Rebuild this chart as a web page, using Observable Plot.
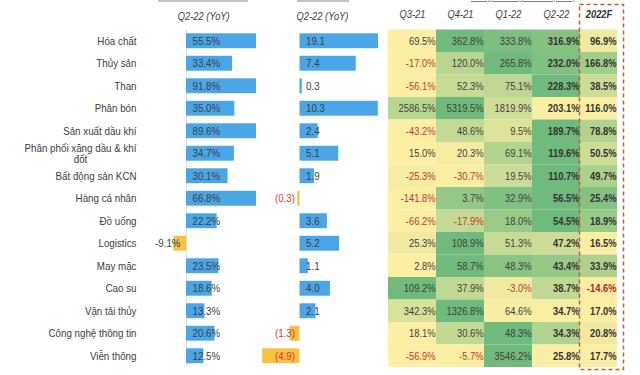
<!DOCTYPE html>
<html><head><meta charset="utf-8">
<script src="https://cdn.jsdelivr.net/npm/d3@7"></script>
<script src="https://cdn.jsdelivr.net/npm/@observablehq/plot@0.6"></script>
<style>
body{margin:0;background:#fff;}
#wrap{position:relative;width:640px;height:375px;overflow:hidden;font-family:Arial,'Liberation Sans',sans-serif;}
#wrap svg{position:absolute;left:0;top:0;}
.cut{position:absolute;background:#c4c4c4;height:2px;top:0;}
.ttl{position:absolute;top:-10px;left:462px;width:120px;text-align:center;font-size:11px;line-height:12px;color:#7f7f7f;text-decoration:underline;white-space:nowrap;transform:scaleX(0.85);}
</style></head>
<body>
<div id="wrap">
  <div class="cut" style="left:158px;width:90px"></div>
  <div class="cut" style="left:297px;width:52px"></div>
  <div class="ttl">Tăng trưởng LNST (YoY)</div>
</div>
<script>
const sectors = ["Hóa chất","Thủy sản","Than","Phân bón","Sản xuất dầu khí","Phân phối xăng dầu & khí đốt","Bất động sản KCN","Hàng cá nhân","Đồ uống","Logistics","May mặc","Cao su","Vận tải thủy","Công nghệ thông tin","Viễn thông"];
const col1 = [55.5, 33.4, 91.8, 35.0, 89.6, 34.7, 30.1, 66.8, 22.2, -9.1, 23.5, 18.6, 13.3, 20.6, 12.5];
const col2 = [19.1, 7.4, 0.3, 10.3, 2.4, 5.1, 1.9, -0.3, 3.6, 5.2, 1.1, 4.0, 2.1, -1.3, -4.9];
const periods = ["Q3-21","Q4-21","Q1-22","Q2-22","2022F"];
const q321 = [69.5, -17.0, -56.1, 2586.5, -43.2, 15.0, -25.3, -141.8, -66.2, 25.3, 2.8, 109.2, 342.3, 18.1, -56.9];
const q421 = [362.8, 120.0, 52.3, 5319.5, 48.6, 20.3, -30.7, 3.7, -17.9, 108.9, 58.7, 37.9, 1326.8, 30.6, -5.7];
const q122 = [333.8, 265.8, 75.1, 1819.9, 9.5, 69.1, 19.5, 32.9, 18.0, 51.3, 48.3, -3.0, 64.6, 48.3, 3546.2];
const q222 = [316.9, 232.0, 228.3, 203.1, 189.7, 119.6, 110.7, 56.5, 54.5, 47.2, 43.4, 38.7, 34.7, 34.3, 25.8];
const f2022 = [96.9, 166.8, 38.5, 116.0, 78.8, 50.5, 49.7, 25.4, 18.9, 16.5, 33.9, -14.6, 17.0, 20.8, 17.7];
const colHeader1 = "Q2-22 (YoY)";
const colHeader2 = "Q2-22 (YoY)";

const FONT = "Arial,'Liberation Sans',sans-serif";
const SQUEEZE = 0.85;
const BLUE = "#4aa6e6", GOLD = "#f6c244", TXT = "#404040", RED = "#c0392b", RED2 = "#e2372d";
const LOW = "#fcefa4", HIGH = "#6fba7c";
const W = 640, H = 375, MT = 29.5, MB = 8;
const wrap = document.getElementById("wrap");
const style = {background: "none", fontFamily: FONT, fontSize: "11.5px", color: TXT, overflow: "visible"};

const rows = sectors.map((s, i) => ({s, c1: col1[i], c2: col2[i]}));
const series = [q321, q421, q122, q222, f2022];
const cells = [];
sectors.forEach((s, i) => {
  const vals = series.map(a => a[i]);
  const lo = d3.min(vals), hi = d3.max(vals);
  periods.forEach((p, j) => cells.push({s, p, v: vals[j], t: (vals[j] - lo) / (hi - lo)}));
});
const fmtPct = d => d.v.toFixed(1) + "%";
const wrapLabel = s => s.length > 24 ? s.slice(0, s.lastIndexOf(" ", 24)) + "\n" + s.slice(s.lastIndexOf(" ", 24) + 1) : s;
const single = rows.filter(d => !wrapLabel(d.s).includes("\n"));
const multi = rows.filter(d => wrapLabel(d.s).includes("\n"));
const ctx = document.createElement("canvas").getContext("2d");
ctx.font = "11.5px " + FONT;
const firstW = multi.length ? ctx.measureText(wrapLabel(multi[0].s).split("\n")[0]).width * SQUEEZE : 0;
const yOpt = {domain: sectors, axis: null, padding: 0, round: false};

// Labels + column 1
wrap.appendChild(Plot.plot({
  width: W, height: H, marginTop: MT, marginBottom: MB, marginLeft: 158.4, marginRight: 384,
  x: {domain: [-20, 50.7], clamp: true, axis: null},
  y: yOpt, style,
  marks: [
    Plot.ruleX([0], {stroke: "#dedede"}),
    Plot.barX(rows.filter(d => d.c1 >= 0), {y: "s", x1: () => 0, x2: "c1", fill: BLUE, insetTop: 3.8, insetBottom: 3.8}),
    Plot.barX(rows.filter(d => d.c1 < 0), {y: "s", x1: () => 0, x2: "c1", fill: GOLD, insetTop: 3.8, insetBottom: 3.8}),
    Plot.text(rows.filter(d => d.c1 >= 0), {y: "s", x: () => 0, text: d => d.c1.toFixed(1) + "%", textAnchor: "start", dx: 6, fill: TXT}),
    Plot.text(rows.filter(d => d.c1 < 0), {y: "s", x: () => 0, text: d => d.c1.toFixed(1) + "%", textAnchor: "end", dx: -6, fill: TXT}),
    Plot.text(single, {y: "s", text: "s", frameAnchor: "left", textAnchor: "end", dx: -22.4, fill: TXT}),
    Plot.text(multi, {y: "s", text: d => wrapLabel(d.s), frameAnchor: "left", textAnchor: "middle", dx: -(22.4 + firstW / 2), lineHeight: 0.95, fill: TXT}),
    Plot.text([colHeader1], {frameAnchor: "top", lineAnchor: "middle", dy: -13.8, dx: -4, fontStyle: "italic", fontSize: 11, fill: TXT})
  ]
}));

// Column 2
wrap.appendChild(Plot.plot({
  width: W, height: H, marginTop: MT, marginBottom: MB, marginLeft: 253.9, marginRight: 262,
  x: {domain: [-6, 10.33], clamp: true, axis: null},
  y: yOpt, style,
  marks: [
    Plot.barX(rows.filter(d => d.c2 >= 0), {y: "s", x1: () => 0, x2: "c2", fill: BLUE, insetTop: 3.8, insetBottom: 3.8}),
    Plot.barX(rows.filter(d => d.c2 < 0), {y: "s", x1: () => 0, x2: "c2", fill: GOLD, insetTop: 3.8, insetBottom: 3.8}),
    Plot.text(rows.filter(d => d.c2 >= 0), {y: "s", x: () => 0, text: d => d.c2.toFixed(1), textAnchor: "start", dx: 6, fill: TXT}),
    Plot.text(rows.filter(d => d.c2 < 0), {y: "s", x: () => 0, text: d => "(" + Math.abs(d.c2).toFixed(1) + ")", textAnchor: "end", dx: -5, fill: RED2}),
    Plot.text([colHeader2], {frameAnchor: "top", lineAnchor: "middle", dy: -13.8, dx: 6, fontStyle: "italic", fontSize: 11, fill: TXT})
  ]
}));

// Heatmap Q3-21 .. Q2-22
const hist = periods.slice(0, 4);
const c4 = cells.filter(d => hist.includes(d.p));
const isBold = d => d.p === "Q2-22";
wrap.appendChild(Plot.plot({
  width: W, height: H, marginTop: MT, marginBottom: MB, marginLeft: 388, marginRight: 60,
  x: {domain: hist, axis: null, padding: 0, round: false},
  y: yOpt, style,
  color: {type: "linear", domain: [0, 1], range: [LOW, HIGH], interpolate: "rgb"},
  marks: [
    Plot.cell(c4, {x: "p", y: "s", fill: "t"}),
    Plot.text(c4.filter(d => !isBold(d) && d.v >= 0), {x: "p", y: "s", text: fmtPct, textAnchor: "end", dx: 23, fontSize: 11, fill: TXT}),
    Plot.text(c4.filter(d => !isBold(d) && d.v < 0), {x: "p", y: "s", text: fmtPct, textAnchor: "end", dx: 23, fontSize: 11, fill: RED}),
    Plot.text(c4.filter(d => isBold(d) && d.v >= 0), {x: "p", y: "s", text: fmtPct, textAnchor: "end", dx: 23, fontSize: 11, fontWeight: "bold", fill: "#333"}),
    Plot.text(c4.filter(d => isBold(d) && d.v < 0), {x: "p", y: "s", text: fmtPct, textAnchor: "end", dx: 23, fontSize: 11, fontWeight: "bold", fill: RED}),
    Plot.text(hist, {x: d => d, frameAnchor: "top", lineAnchor: "middle", dy: -15.5, fontStyle: "italic", fontSize: 11, fill: TXT})
  ]
}));

// 2022F column with dashed box
const fc = cells.filter(d => d.p === "2022F");
wrap.appendChild(Plot.plot({
  width: W, height: H, marginTop: MT, marginBottom: MB, marginLeft: 580, marginRight: 23,
  x: {domain: ["2022F"], axis: null, padding: 0, round: false},
  y: yOpt, style,
  color: {type: "linear", domain: [0, 1], range: [LOW, HIGH], interpolate: "rgb"},
  marks: [
    Plot.cell(fc, {x: "p", y: "s", fill: "t"}),
    Plot.text(fc.filter(d => d.v >= 0), {x: "p", y: "s", text: fmtPct, textAnchor: "end", dx: 17.5, fontSize: 11, fontWeight: "bold", fill: "#333"}),
    Plot.text(fc.filter(d => d.v < 0), {x: "p", y: "s", text: fmtPct, textAnchor: "end", dx: 17.5, fontSize: 11, fontWeight: "bold", fill: "#a8281c"}),
    Plot.text(["2022F"], {x: d => d, frameAnchor: "top", lineAnchor: "middle", dy: -15.5, fontStyle: "italic", fontWeight: "bold", fontSize: 11, fill: "#333"}),
    Plot.frame({stroke: "#c0612b", strokeWidth: 1.5, strokeDasharray: "4,3", insetLeft: -1, insetRight: -6, insetTop: -25.5, insetBottom: -2})
  ]
}));

// Horizontally condense every text run, as in the reference (real text kept)
wrap.querySelectorAll("svg text").forEach(t => {
  const parts = t.querySelectorAll("tspan");
  (parts.length ? Array.from(parts) : [t]).forEach(el => {
    const len = el.getComputedTextLength();
    if (len > 0) {
      el.setAttribute("textLength", (len * SQUEEZE).toFixed(2));
      el.setAttribute("lengthAdjust", "spacingAndGlyphs");
    }
  });
});
</script>
</body></html>
